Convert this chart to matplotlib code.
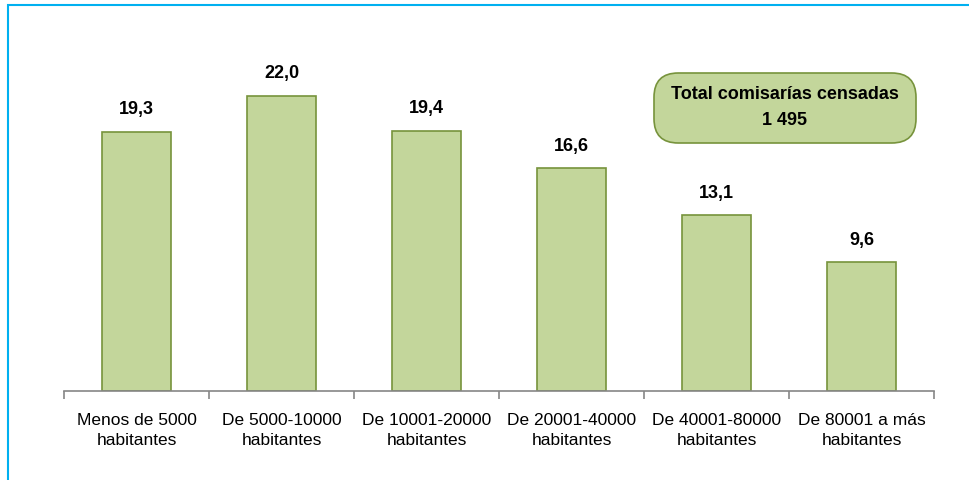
import matplotlib.pyplot as plt
from matplotlib.patches import Rectangle, FancyBboxPatch

plt.rcParams['font.family'] = ['Liberation Sans', 'DejaVu Sans']

categorias = ["Menos de 5000\nhabitantes", "De 5000-10000\nhabitantes",
              "De 10001-20000\nhabitantes", "De 20001-40000\nhabitantes",
              "De 40001-80000\nhabitantes", "De 80001 a más\nhabitantes"]
valores = [19.3, 22.0, 19.4, 16.6, 13.1, 9.6]
etiquetas = ["19,3", "22,0", "19,4", "16,6", "13,1", "9,6"]
total_texto = "Total comisarías censadas\n1 495"

fig = plt.figure(figsize=(9.7, 4.8), dpi=100)
ax = fig.add_axes([64 / 970, 89 / 480, 870 / 970, 371 / 480])

x = list(range(len(valores)))
ax.bar(x, valores, width=0.48, color='#C3D69B', edgecolor='#77933C', linewidth=1.2)
for xi, v, t in zip(x, valores, etiquetas):
    ax.text(xi, v + 1.3, t, ha='center', va='baseline', fontsize=13, fontweight='bold')

ax.set_xlim(-0.5, len(valores) - 0.5)
ax.set_ylim(0, 27.64)
for s in ['top', 'right', 'left']:
    ax.spines[s].set_visible(False)
ax.spines['bottom'].set_color('#868686')
ax.spines['bottom'].set_linewidth(1.2)
ax.set_yticks([])
ax.set_xticks([i - 0.5 for i in range(len(valores) + 1)], minor=False)
ax.set_xticklabels([])
ax.tick_params(axis='x', length=6, color='#868686', width=1.2)
ax.set_xticks(x, minor=True)
ax.set_xticklabels(categorias, minor=True, fontsize=12.5, linespacing=1.39)
ax.tick_params(axis='x', which='minor', length=0, pad=16)

# cuadro del total
caja = FancyBboxPatch((654 / 970, 337 / 480), 262 / 970, 70 / 480,
                      boxstyle="round,pad=0,rounding_size=0.025",
                      transform=fig.transFigure, facecolor='#C3D69B',
                      edgecolor='#77933C', linewidth=1.2, mutation_aspect=970 / 480)
fig.patches.append(caja)
fig.text(785 / 970, 372.5 / 480, total_texto, ha='center', va='center',
         fontsize=13, fontweight='bold', linespacing=1.68)

# borde exterior
fig.patches.append(Rectangle((8 / 970, -0.02), 1.0, 1 - 4.5 / 480 + 0.02,
                             transform=fig.transFigure, fill=False,
                             edgecolor='#00B0F0', linewidth=1.5))

fig.savefig("out.png", dpi=100)
